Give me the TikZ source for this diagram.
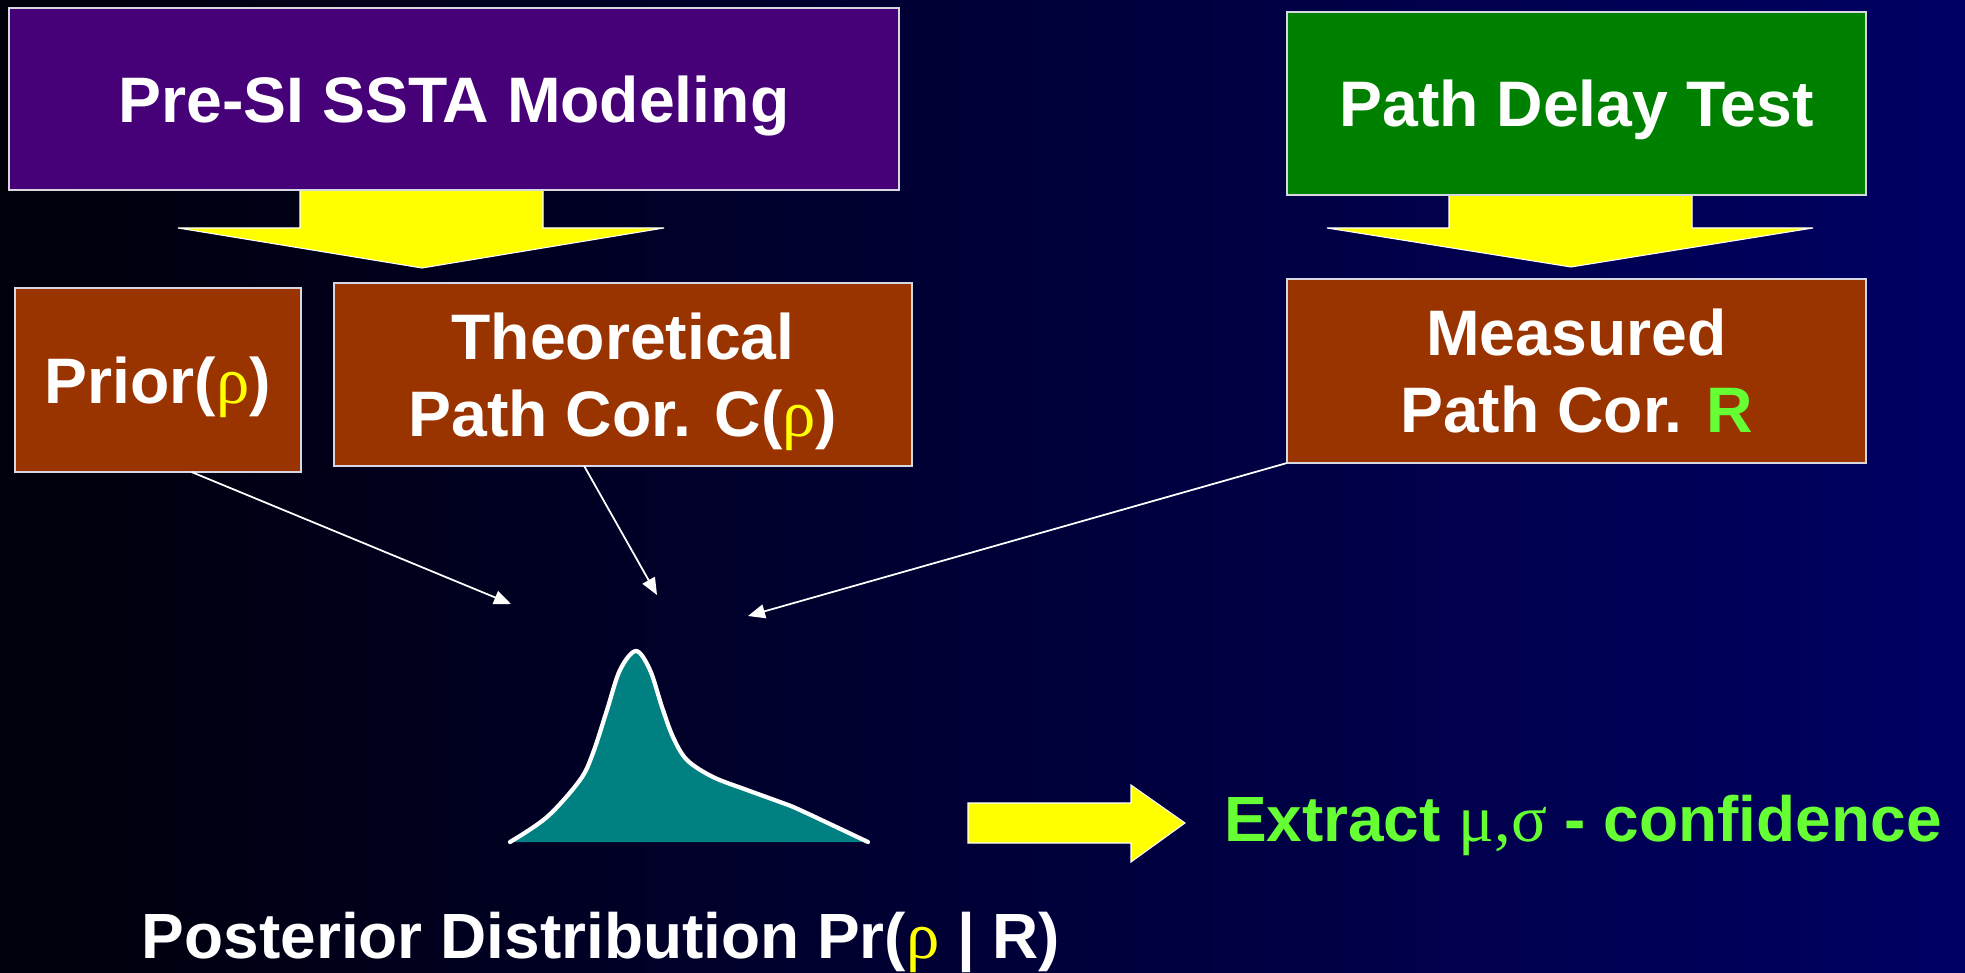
\documentclass[tikz,border=0pt]{standalone}
\usepackage{fontspec}
\setmainfont{Liberation Sans}
\newfontfamily\symfont{Liberation Serif}
\usetikzlibrary{arrows.meta}

\definecolor{bgleft}{RGB}{0,0,10}
\definecolor{bgright}{RGB}{0,0,100}
\definecolor{ssta}{RGB}{70,0,120}
\definecolor{pdtgreen}{RGB}{0,128,0}
\definecolor{corbrown}{RGB}{153,51,0}
\definecolor{postteal}{RGB}{0,128,128}
\definecolor{rhoyellow}{RGB}{255,255,0}
\definecolor{litegreen}{RGB}{102,255,51}
\definecolor{boxline}{RGB}{215,215,225}

\newcommand{\rhosym}{{\symfont\mdseries\fontsize{19}{22}\selectfont\textcolor{rhoyellow}{ρ}}}

\begin{document}
\begin{tikzpicture}[inner sep=0pt,outer sep=0pt,
corblock/.style={draw=boxline,rectangle,line width=0.6pt,align=center,text=white,text depth=0pt,
  font=\bfseries\fontsize{18.3}{22}\selectfont,fill=corbrown},
bigarrow/.style={fill=rhoyellow,draw=white,line width=0.3pt,line join=miter},
link/.style={draw=white,line width=0.5pt,-{Triangle[length=0.17cm,width=0.14cm]}},
bigtext/.style={font=\bfseries\fontsize{18.2}{22}\selectfont}]
\shade[left color=bgleft,right color=bgright] (0,0) rectangle (19.65,9.72);
\useasboundingbox (0,0) rectangle (19.65,9.72);

% yellow block arrows under the two top boxes
\draw[bigarrow] (3.00,7.82) -- (3.00,7.44) -- (1.78,7.44) -- (4.22,7.04) -- (6.64,7.44) -- (5.43,7.44) -- (5.43,7.82) -- cycle;
\draw[bigarrow] (14.49,7.77) -- (14.49,7.44) -- (13.27,7.44) -- (15.71,7.05) -- (18.13,7.44) -- (16.92,7.44) -- (16.92,7.77) -- cycle;

\draw (4.54,8.73) node[corblock,fill=ssta,minimum width=8.90cm,minimum height=1.82cm] (pre) {Pre-SI SSTA Modeling};
\draw (15.765,8.685) node[corblock,fill=pdtgreen,minimum width=5.79cm,minimum height=1.83cm] (pdt) {Path Delay Test};

\draw (1.58,5.92) node[corblock,minimum width=2.86cm,minimum height=1.84cm] (prior) {Prior(\rhosym)};
\draw (6.23,5.975) node[corblock,minimum width=5.775cm,minimum height=1.83cm] (theo) {Theoretical\\Path Cor. C(\rhosym)};
\draw (15.765,6.01) node[corblock,minimum width=5.79cm,minimum height=1.84cm] (meas) {Measured\\Path Cor. \textcolor{litegreen}{R}};

% posterior density
\fill[postteal] plot[smooth,tension=0.55] coordinates {(5.10,1.30) (5.47,1.55) (5.80,1.92) (5.93,2.19) (6.07,2.62) (6.20,3.02) (6.36,3.21) (6.50,3.02) (6.62,2.65) (6.73,2.35) (6.87,2.12) (7.13,1.95) (7.47,1.82) (7.80,1.70) (8.00,1.62) (8.68,1.30)} -- cycle;
\draw[white,line width=1.2pt,line cap=round] plot[smooth,tension=0.55] coordinates {(5.10,1.30) (5.47,1.55) (5.80,1.92) (5.93,2.19) (6.07,2.62) (6.20,3.02) (6.36,3.21) (6.50,3.02) (6.62,2.65) (6.73,2.35) (6.87,2.12) (7.13,1.95) (7.47,1.82) (7.80,1.70) (8.00,1.62) (8.68,1.30)};

\coordinate (c1) at (5.11,3.68);
\coordinate (c2) at (6.57,3.77);
\coordinate (c3) at (7.48,3.56);
\draw[link] (prior.-70) -- (c1);
\draw[link] (theo.-113) -- (c2);
\draw[link] (meas.south west) -- (c3);

\draw[bigarrow] (9.68,1.69) -- (11.31,1.69) -- (11.31,1.87) -- (11.85,1.49) -- (11.31,1.10) -- (11.31,1.29) -- (9.68,1.29) -- cycle;

\draw (12.24,1.31) node[anchor=base west,bigtext,text=litegreen] (extract) {Extract {\symfont\mdseries\fontsize{19}{22}\selectfont μ,σ} - confidence};
\draw (1.42,0.14) node[anchor=base west,bigtext,text=white] (post) {Posterior Distribution Pr(\rhosym{} | R)};
\end{tikzpicture}
\end{document}
